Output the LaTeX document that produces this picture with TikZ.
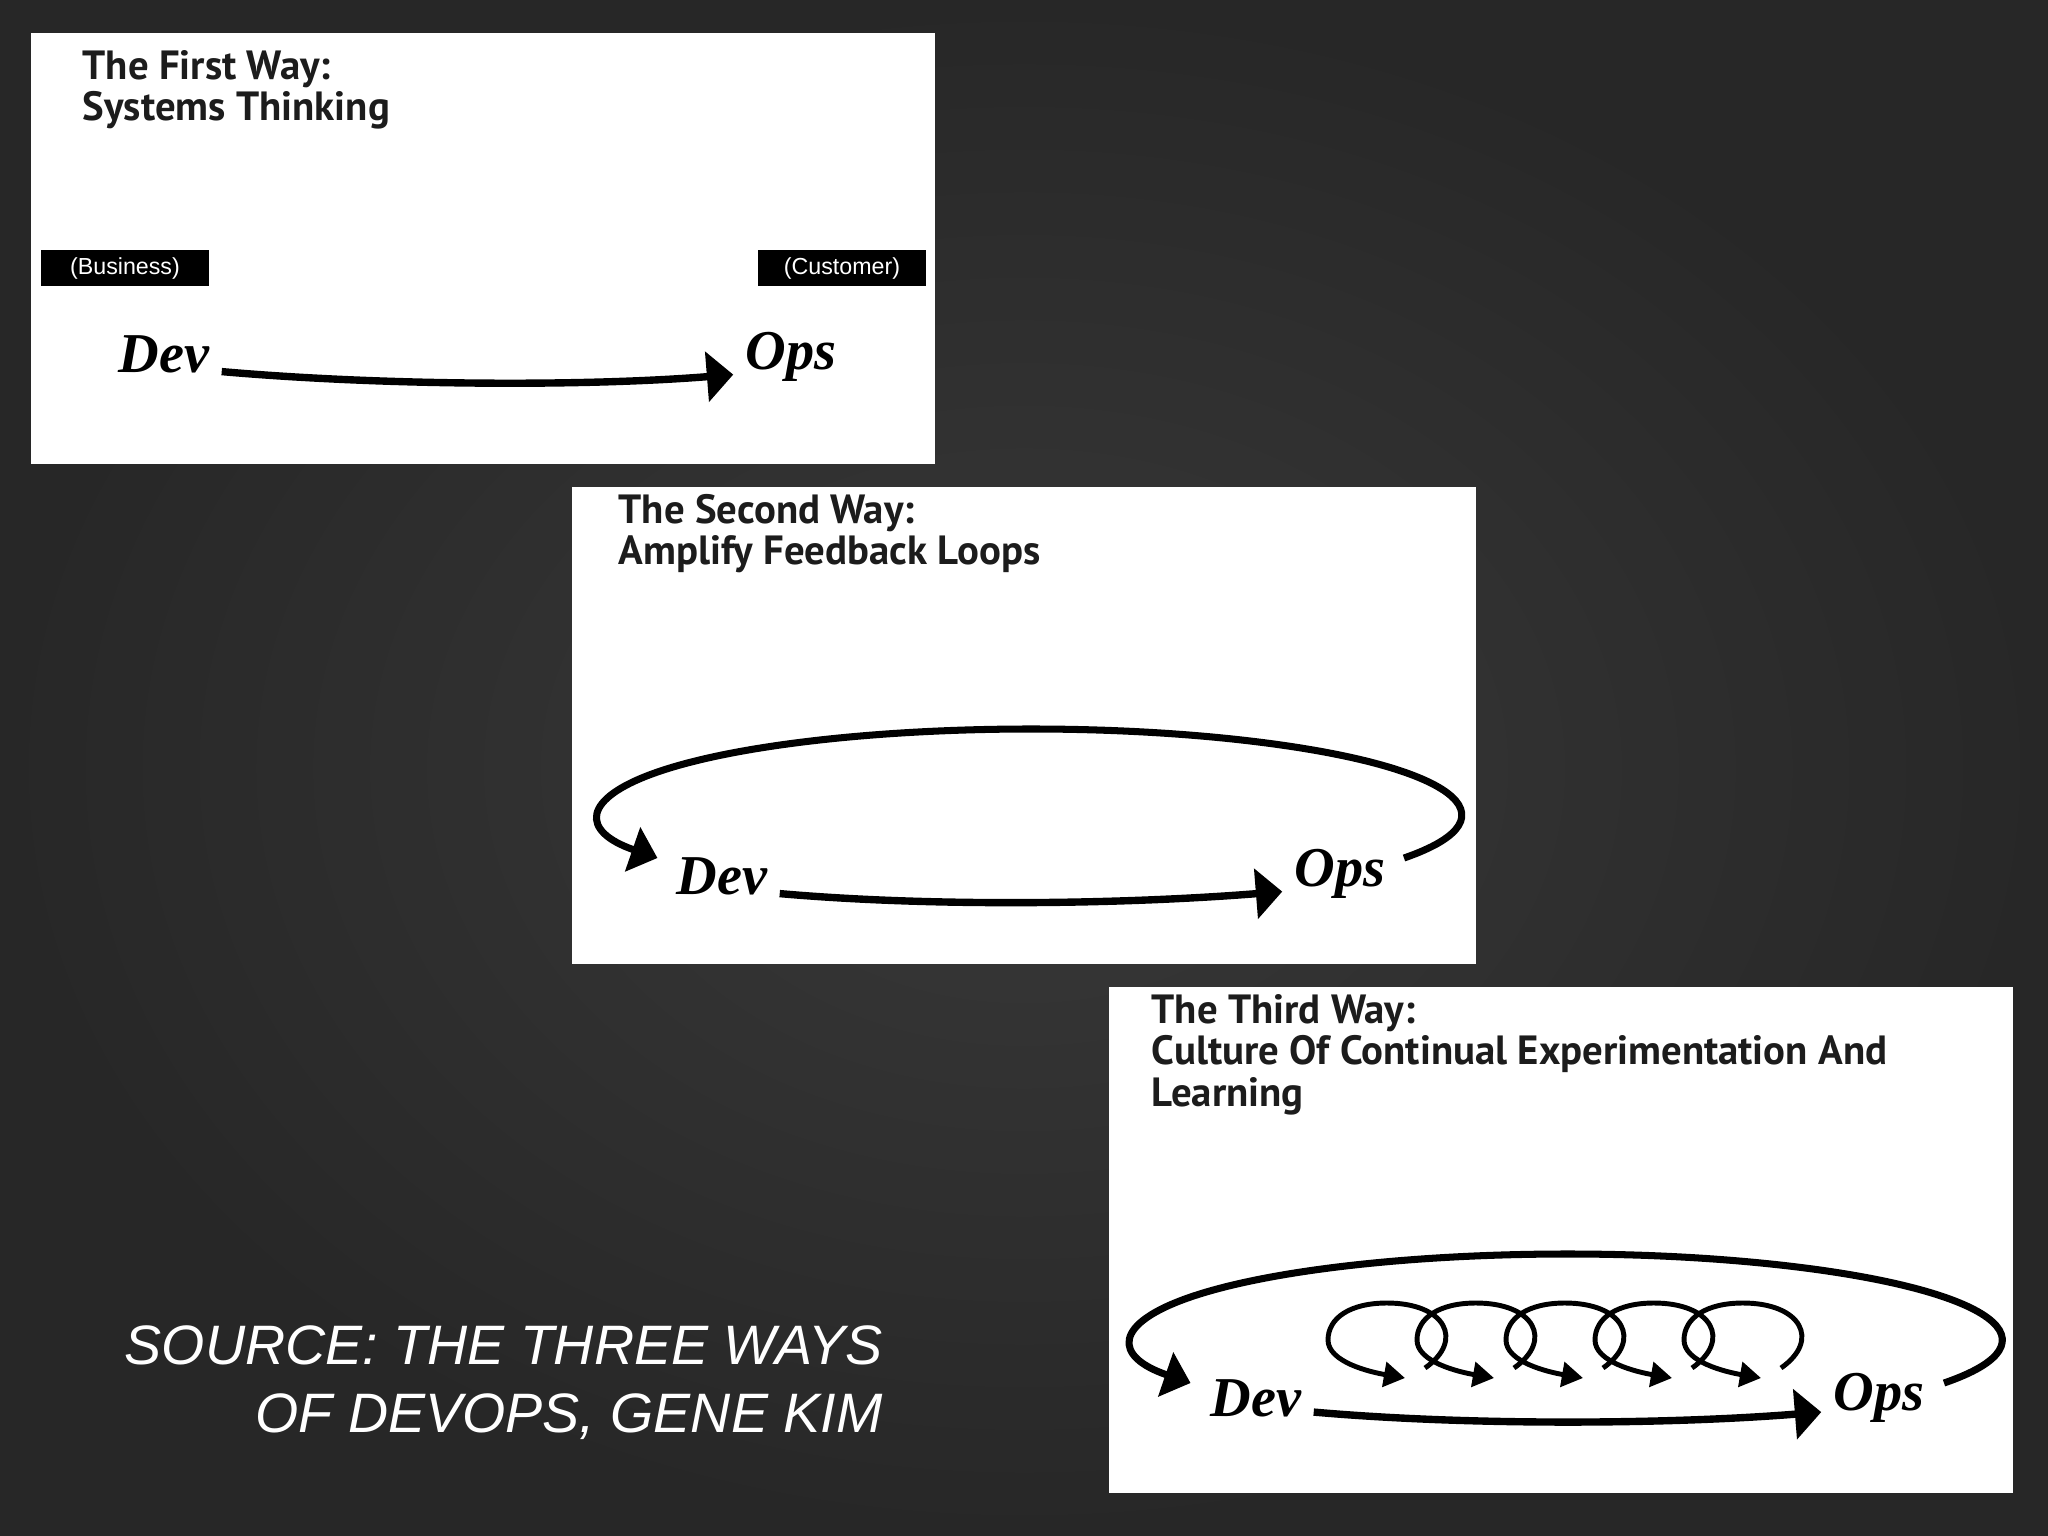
\documentclass[tikz,border=0pt]{standalone}
\usepackage{fontspec}
\setmainfont{Liberation Serif}
\newfontfamily\headfont{PT Sans}
\newfontfamily\tagfont{Liberation Sans}
\usetikzlibrary{arrows.meta}

\definecolor{bgin}{HTML}{393939}
\definecolor{bgout}{HTML}{272727}
\definecolor{inkgray}{HTML}{1C1C1C}

\begin{document}
\begin{tikzpicture}[x=0.01cm, y=-0.01cm,
    heading/.style={anchor=north west, inner sep=0pt, align=left, text=inkgray,
      font=\headfont\bfseries\fontsize{11.6}{11.7}\selectfont},
    tagbox/.style={fill=black, text=white, minimum width=47.5pt, minimum height=10.2pt,
      inner sep=0pt, font=\tagfont\fontsize{6.6}{7}\selectfont},
    devops/.style={font=\bfseries\itshape\fontsize{16}{16}\selectfont},
    flow/.style={line width=2.1pt, -{Triangle[length=7.5pt,width=14pt]}},
    feedback/.style={line width=2pt, -{Triangle[length=7.5pt,width=13pt]}},
    coilarrow/.style={line width=1.4pt, -{Triangle[length=6pt,width=7pt]}}]

  % Slide background
  \useasboundingbox (0,0) rectangle (2048,1536);
  \shade[inner color=bgin, outer color=bgout] (0,0) rectangle (2048,1536);

  % Panels
  \fill[white] (31,33) rectangle (935,464);
  \fill[white] (572,487) rectangle (1476,964);
  \fill[white] (1109,987) rectangle (2013,1493);

  % The First Way
  \node[heading] (title1) at (82,50) {The First Way:\\Systems Thinking};
  \node[tagbox] (business) at (125,268) {(Business)};
  \node[tagbox] (customer) at (842,268) {(Customer)};
  \node[devops] (dev1) at (164,354) {Dev};
  \node[devops] (ops1) at (791,357) {Ops};
  \draw[flow] ([yshift=-5pt]dev1.east) .. controls +(160,14) and +(-150,12) .. ([yshift=-5pt]ops1.west);

  % The Second Way
  \node[heading] (title2) at (618,494) {The Second Way:\\Amplify Feedback Loops};
  \node[devops] (dev2) at (722,876) {Dev};
  \node[devops] (ops2) at (1340,874) {Ops};
  \draw[flow] ([yshift=-5pt]dev2.east) .. controls +(160,14) and +(-150,12) .. ([yshift=-5pt]ops2.west);
  \coordinate (loop2) at (1404,858);
  \draw[feedback] (loop2) arc[start angle=30, end angle=-210, x radius=431, y radius=86];

  % The Third Way
  \node[heading] (title3) at (1151,994) {The Third Way:\\Culture Of Continual Experimentation And\\Learning};
  \node[devops] (dev3) at (1256,1398) {Dev};
  \node[devops] (ops3) at (1879,1398) {Ops};
  \draw[flow] ([yshift=-4pt]dev3.east) .. controls +(160,14) and +(-150,12) .. ([yshift=-4pt]ops3.west);
  \coordinate (loop3) at (1944,1383);
  \draw[feedback] (loop3) arc[start angle=30, end angle=-210, x radius=435, y radius=86];
  % small loops
  \foreach \k in {0,...,4}
    \draw[coilarrow, shift={(89*\k,0)}] (1425,1368) .. controls (1465,1340) and (1445,1303) .. (1387,1303)
      .. controls (1350,1303) and (1328,1318) .. (1328,1340)
      .. controls (1328,1362) and (1370,1372) .. (1405,1378);

  % Source
  \node[anchor=north east, inner sep=0pt, align=right, text=white,
    font=\tagfont\itshape\fontsize{15.8}{19.3}\selectfont] (source) at (883,1325)
    {SOURCE: THE THREE WAYS\\OF DEVOPS, GENE KIM};
\end{tikzpicture}
\end{document}
